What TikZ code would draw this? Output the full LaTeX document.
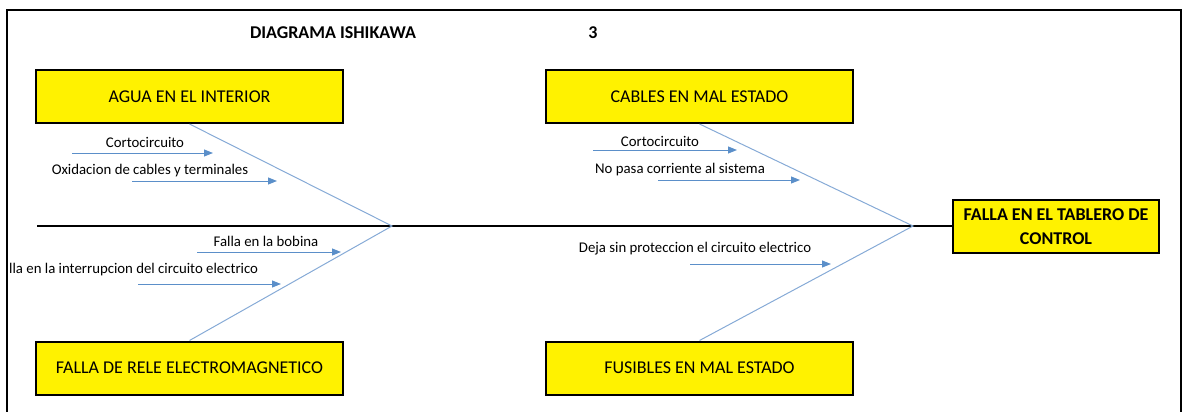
\documentclass[tikz,border=0pt]{standalone}
\usepackage{fontspec}
\setmainfont{Carlito}
\usetikzlibrary{arrows.meta}
\definecolor{boneblue}{HTML}{86AAD6}
\definecolor{arrowblue}{HTML}{5B8FC9}
\begin{document}
\begin{tikzpicture}[x=1pt,y=-1pt,
  cause/.style={draw=black, line width=2pt, fill=yellow, minimum width=307pt, minimum height=53pt, inner sep=0pt, font=\fontsize{18}{21}\selectfont},
  effect/.style={draw=black, line width=2pt, fill=yellow, minimum width=206pt, minimum height=53pt, inner sep=0pt, align=center, font=\fontsize{18}{24}\selectfont\bfseries},
  lbl/.style={inner sep=0pt, font=\fontsize{14.8}{17}\selectfont},
  ttl/.style={inner sep=0pt, font=\fontsize{18}{21}\selectfont\bfseries},
  bone/.style={draw=boneblue, line width=1pt},
  spine/.style={draw=black, line width=1.2pt},
  sub/.style={draw=arrowblue, line width=1pt, -{Triangle[length=9pt,width=7pt]}},
]
\useasboundingbox (0,0) rectangle (1186,412);
\draw[line width=2pt] (7,412) -- (7,10) -- (1181,10) -- (1181,412);

% titles
\node[ttl] (title) at (333,33) {DIAGRAMA ISHIKAWA};
\node[ttl] (num) at (593,33) {3};

% boxes
\node[cause] (agua) at (189.5,96.5) {AGUA EN EL INTERIOR};
\node[cause] (cables) at (699.5,96.5) {CABLES EN MAL ESTADO};
\node[cause] (rele) at (189.5,368) {FALLA DE RELE ELECTROMAGNETICO};
\node[cause] (fus) at (699.5,368) {FUSIBLES EN MAL ESTADO};
\node[effect] (efecto) at (1056,226.5) {FALLA EN EL TABLERO DE\\CONTROL};

% spine and bones
\coordinate (s0) at (37,226);
\coordinate (v1) at (392,226);
\coordinate (v2) at (913,226);
\draw[spine] (s0) -- (s0 -| efecto.west);
\draw[bone] (agua.south) -- (v1) -- (rele.north);
\draw[bone] (cables.south) -- (v2) -- (fus.north);

% sub causes
\coordinate (a1s) at (72,153);  \coordinate (a1e) at (213,153);
\coordinate (a2s) at (132,181); \coordinate (a2e) at (277,181);
\coordinate (c1s) at (593,150); \coordinate (c1e) at (737,150);
\coordinate (c2s) at (658,180); \coordinate (c2e) at (800,180);
\coordinate (b1s) at (197,252); \coordinate (b1e) at (341,252);
\coordinate (b2s) at (138,284); \coordinate (b2e) at (281,284);
\coordinate (d1s) at (690,264); \coordinate (d1e) at (831,264);
\draw[sub] (a1s) -- (a1e);
\draw[sub] (a2s) -- (a2e);
\draw[sub] (c1s) -- (c1e);
\draw[sub] (c2s) -- (c2e);
\draw[sub] (b1s) -- (b1e);
\draw[sub] (b2s) -- (b2e);
\draw[sub] (d1s) -- (d1e);

\node[lbl] (la1) at (145,142) {Cortocircuito};
\node[lbl] (la2) at (150,171) {Oxidacion de cables y terminales};
\node[lbl] (lc1) at (660,141) {Cortocircuito};
\node[lbl] (lc2) at (680,170) {No pasa corriente al sistema};
\node[lbl] (lb1) at (266,241) {Falla en la bobina};
\node[lbl, anchor=west] (lb2) at (9,270) {lla en la interrupcion del circuito electrico};
\node[lbl] (ld1) at (695,249) {Deja sin proteccion el circuito electrico};
\end{tikzpicture}
\end{document}
